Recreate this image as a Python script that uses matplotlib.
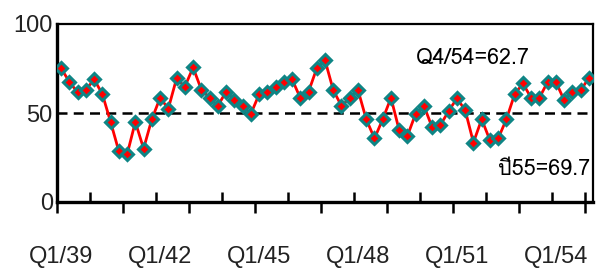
import matplotlib
matplotlib.use('Agg')
import matplotlib.pyplot as plt
from matplotlib import font_manager
from matplotlib.ft2font import FT2Font
from matplotlib.ticker import FixedLocator, NullFormatter

# quarterly index Q1/39 .. Q4/54, last point is year 55
values = [75.1, 67.5, 61.6, 62.9,
          69.0, 60.6, 45.0, 28.5,
          26.7, 45.0, 30.0, 46.5,
          58.5, 52.5, 69.4, 64.7,
          75.6, 63.2, 58.5, 54.0,
          61.9, 57.4, 54.0, 49.4,
          60.4, 61.9, 64.7, 67.5,
          69.0, 58.5, 61.9, 75.1,
          79.7, 62.9, 53.9, 58.5,
          62.9, 46.5, 35.7, 46.5,
          58.5, 40.3, 37.2, 49.7,
          54.0, 41.9, 43.2, 51.2,
          58.2, 51.6, 33.4, 46.5,
          34.7, 35.7, 46.5, 60.6,
          66.6, 58.5, 58.5, 67.5,
          67.5, 57.2, 61.6, 62.7,
          69.7]
tick_labels = ['Q1/39', 'Q1/42', 'Q1/45', 'Q1/48', 'Q1/51', 'Q1/54']
label_pos = [0, 12, 24, 36, 48, 60]
y_ticks = [0, 50, 100]
ref_level = 50
note_q = 'Q4/54=62.7'
note_y = 'ปี55=69.7'

# find something that can draw Thai
thai_font = None
for f in font_manager.fontManager.ttflist:
    try:
        if ord('ป') in FT2Font(f.fname).get_charmap():
            thai_font = f.name
            break
    except Exception:
        pass
note_family = [thai_font, 'DejaVu Sans'] if thai_font else ['DejaVu Sans']

x = list(range(len(values)))

fig = plt.figure(figsize=(6, 2.71), dpi=100)
ax = fig.add_axes([57 / 600, 1 - 202 / 271, 536 / 600, 178 / 271])

ax.axhline(ref_level, color='black', lw=1.8, ls=(0, (4, 2.5)), zorder=1)
ax.plot(x, values, color='red', lw=2, marker='D', ms=6,
        mfc='red', mec='#0e8585', mew=2.2, zorder=3)

ax.set_xlim(-0.5, len(values) - 0.5)
ax.set_ylim(0, 100)

for side in ['left', 'bottom']:
    ax.spines[side].set_linewidth(2.4)
for side in ['top', 'right']:
    ax.spines[side].set_linewidth(1.6)

# year boundaries: alternate down / up ticks
bounds = [4 * k - 0.5 for k in range(17)]
ax.xaxis.remove_overlapping_locs = False
ax.xaxis.set_major_locator(FixedLocator(bounds[::2]))
ax.xaxis.set_minor_locator(FixedLocator(bounds[1::2] + [bounds[-1]]))
ax.xaxis.set_major_formatter(NullFormatter())
ax.tick_params(axis='x', which='major', direction='out', length=8, width=1.8)
ax.tick_params(axis='x', which='minor', direction='in', length=7, width=1.8)

sec = ax.secondary_xaxis('bottom')
sec.set_xticks(label_pos)
sec.set_xticklabels(tick_labels, fontsize=17, family='Liberation Sans', color='#222222')
sec.tick_params(length=0, pad=32)
sec.spines['bottom'].set_visible(False)

ax.set_yticks(y_ticks)
ax.set_yticklabels([str(v) for v in y_ticks], fontsize=17, family='Liberation Sans',
                   color='#222222')
ax.tick_params(axis='y', length=0, pad=3)

ax.text(0.776, 0.775, note_q, transform=ax.transAxes, ha='center', va='baseline',
        fontsize=15.5, family=note_family)
ax.text(0.908, 0.152, note_y, transform=ax.transAxes, ha='center', va='baseline',
        fontsize=15.5, family=note_family)

fig.savefig('out.png', dpi=100)
